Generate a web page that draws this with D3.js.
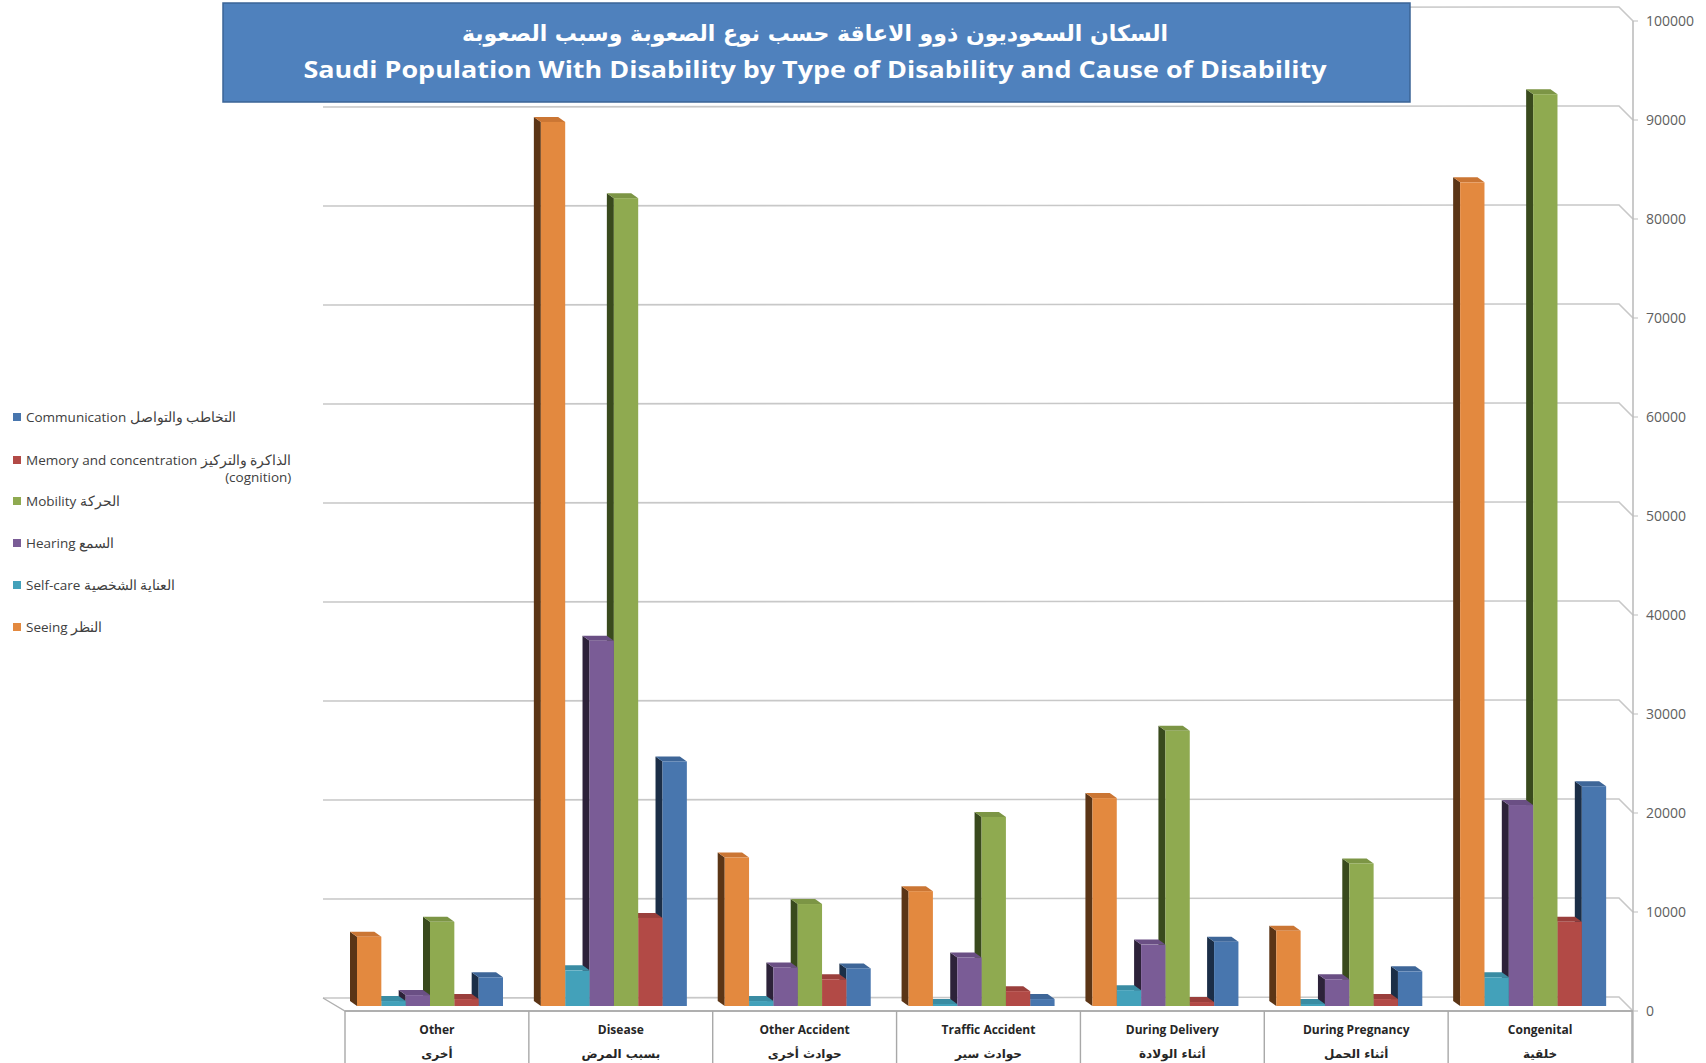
<!DOCTYPE html>
<html>
<head>
<meta charset="utf-8">
<script src="https://cdn.jsdelivr.net/npm/d3@7"></script>
<style>
  body { margin: 0; background: #fff; }
  text { font-family: 'Open Sans', sans-serif; }
  .ar { font-family: 'DejaVu Sans', sans-serif; }
</style>
</head>
<body>
<div id="chart"></div>
<script>
const categories = ['Other', 'Disease', 'Other Accident', 'Traffic Accident', 'During Delivery', 'During Pregnancy', 'Congenital']
const categoriesAr = ['أخرى', 'بسبب المرض', 'حوادث أخرى', 'حوادث سير', 'أثناء الولادة', 'أثناء الحمل', 'خلقية']

// series in drawing order (left to right inside a group)
const seriesKeys = ['seeing', 'selfCare', 'hearing', 'mobility', 'memory', 'communication']
const seeing = [7000, 89300, 15000, 11600, 21000, 7600, 83200]
const selfCare = [500, 3600, 500, 200, 1600, 200, 2900]
const hearing = [1100, 36900, 3900, 4900, 6200, 2700, 20300]
const mobility = [8500, 81600, 10300, 19100, 27800, 14400, 92100]
const memory = [700, 8900, 2700, 1500, 400, 700, 8500]
const communication = [2900, 24700, 3800, 700, 6500, 3500, 22200]

const yTicks = [0, 10000, 20000, 30000, 40000, 50000, 60000, 70000, 80000, 90000, 100000]

const legendLabels = [
  ['communication', 'Communication التخاطب والتواصل'],
  ['memory', 'Memory and concentration الذاكرة والتركيز'],
  ['mobility', 'Mobility الحركة'],
  ['hearing', 'Hearing السمع'],
  ['selfCare', 'Self-care العناية الشخصية'],
  ['seeing', 'Seeing النظر']
]

const values = { seeing, selfCare, hearing, mobility, memory, communication }

const colors = {
  seeing: { front: '#E3893F', top: '#CB7634', side: '#5B3516' },
  selfCare: { front: '#43A1BA', top: '#3A8CA3', side: '#1B4653' },
  hearing: { front: '#7A5C96', top: '#6A4F84', side: '#2D2239' },
  mobility: { front: '#8FAA50', top: '#7C9545', side: '#394A1D' },
  memory: { front: '#B24A46', top: '#9A3F3C', side: '#5A1E1C' },
  communication: { front: '#4876AE', top: '#3E6698', side: '#1B2E47' }
}

const width = 1706
const height = 1063

const svg = d3
  .select('#chart')
  .append('svg')
  .attr('width', width)
  .attr('height', height)

// front plane of the floor
const x0 = d3.scaleBand().domain(categories).range([345, 1632])
const x1 = d3.scaleBand().domain(seriesKeys).range([12, 158])
const y = d3.scaleLinear().domain([0, 100000]).range([1011, 21])

const gridColor = '#c8c8c8'

// back wall gridlines
const grid = svg.append('g')
yTicks.forEach(t => {
  const yy = y(t)
  grid
    .append('path')
    .attr('d', `M323,${yy - 13} L1619,${yy - 14} L1633,${yy}`)
    .attr('fill', 'none')
    .attr('stroke', gridColor)
    .attr('stroke-width', 1.6)
})

// floor
svg
  .append('path')
  .attr('d', `M323,${y(0) - 13} L345,${y(0)} L1632,${y(0)}`)
  .attr('fill', 'none')
  .attr('stroke', '#b0b0b0')
  .attr('stroke-width', 1.4)

// right value axis
const axis = svg.append('g')
axis
  .append('line')
  .attr('x1', 1633)
  .attr('x2', 1633)
  .attr('y1', y(100000))
  .attr('y2', height)
  .attr('stroke', '#bdbdbd')
  .attr('stroke-width', 1.6)

axis
  .selectAll('.tick')
  .data(yTicks)
  .enter()
  .append('line')
  .attr('x1', 1633)
  .attr('x2', 1638)
  .attr('y1', d => y(d))
  .attr('y2', d => y(d))
  .attr('stroke', '#bdbdbd')

axis
  .selectAll('.label')
  .data(yTicks)
  .enter()
  .append('text')
  .attr('x', 1646)
  .attr('y', d => y(d))
  .attr('dy', '0.35em')
  .attr('font-size', 14)
  .attr('fill', '#606060')
  .text(d => d)

// category boxes
const cat = svg.append('g')
cat
  .append('line')
  .attr('x1', 345)
  .attr('x2', 1633)
  .attr('y1', y(0))
  .attr('y2', y(0))
  .attr('stroke', '#a8a8a8')
  .attr('stroke-width', 1.4)

const bounds = categories.map(c => x0(c)).concat([x0.range()[1]])
cat
  .selectAll('.sep')
  .data(bounds)
  .enter()
  .append('line')
  .attr('x1', d => d)
  .attr('x2', d => d)
  .attr('y1', y(0))
  .attr('y2', height)
  .attr('stroke', '#a8a8a8')
  .attr('stroke-width', 1.4)

cat
  .selectAll('.en')
  .data(categories)
  .enter()
  .append('text')
  .attr('x', d => x0(d) + x0.bandwidth() / 2)
  .attr('y', 1034)
  .attr('text-anchor', 'middle')
  .attr('font-size', 12)
  .attr('font-weight', 'bold')
  .attr('fill', '#262626')
  .text(d => d)

cat
  .selectAll('.ar')
  .data(categoriesAr)
  .enter()
  .append('text')
  .attr('class', 'ar')
  .attr('x', (d, i) => x0(categories[i]) + x0.bandwidth() / 2)
  .attr('y', 1058)
  .attr('text-anchor', 'middle')
  .attr('font-size', 12)
  .attr('font-weight', 'bold')
  .attr('fill', '#262626')
  .text(d => d)

// 3d bars
const dx = 7
const dy = 5
const bw = x1.bandwidth()
const bars = svg.append('g')

categories.forEach((c, i) => {
  // right to left so the front face hides the neighbour's side
  seriesKeys
    .slice()
    .reverse()
    .forEach(k => {
      const v = values[k][i]
      const left = x0(c) + x1(k)
      const top = y(v) - 5
      const base = y(0) - 5
      const col = colors[k]
      bars
        .append('path')
        .attr('d', `M${left},${top} L${left - dx},${top - dy} L${left - dx},${base - dy} L${left},${base} Z`)
        .attr('fill', col.side)
      bars
        .append('path')
        .attr('d', `M${left},${top} L${left - dx},${top - dy} L${left + bw - dx},${top - dy} L${left + bw},${top} Z`)
        .attr('fill', col.top)
      bars
        .append('rect')
        .attr('x', left)
        .attr('y', top)
        .attr('width', bw)
        .attr('height', base - top)
        .attr('fill', col.front)
    })
})

// title box
svg
  .append('rect')
  .attr('x', 223)
  .attr('y', 3)
  .attr('width', 1187)
  .attr('height', 99)
  .attr('fill', '#4F81BD')
  .attr('stroke', '#3B6496')
  .attr('stroke-width', 1.5)

svg
  .append('text')
  .attr('class', 'ar')
  .attr('x', 815)
  .attr('y', 41)
  .attr('text-anchor', 'middle')
  .attr('font-size', 22)
  .attr('font-weight', 'bold')
  .attr('fill', '#fff')
  .text('السكان السعوديون ذوو الاعاقة حسب  نوع الصعوبة وسبب الصعوبة')

svg
  .append('text')
  .attr('x', 815)
  .attr('y', 78)
  .attr('text-anchor', 'middle')
  .attr('font-size', 23)
  .attr('font-weight', 'bold')
  .attr('fill', '#fff')
  .attr('textLength', 1023)
  .attr('lengthAdjust', 'spacingAndGlyphs')
  .text('Saudi Population With Disability by Type of Disability and Cause of Disability')

// legend
const legendY = [417, 460, 501, 543, 585, 627]
const legend = svg.append('g')
legendLabels.forEach((d, i) => {
  legend
    .append('rect')
    .attr('x', 13)
    .attr('y', legendY[i] - 4)
    .attr('width', 8)
    .attr('height', 8)
    .attr('fill', colors[d[0]].front)
  const t = legend
    .append('text')
    .attr('x', 26)
    .attr('y', legendY[i])
    .attr('dy', '0.35em')
    .attr('font-size', 13.5)
    .attr('fill', '#404040')
    .text(d[1])
  if (d[0] === 'memory') {
    const w = t.node().getComputedTextLength()
    legend
      .append('text')
      .attr('x', 26 + w)
      .attr('y', legendY[i] + 17)
      .attr('dy', '0.35em')
      .attr('text-anchor', 'end')
      .attr('font-size', 13.5)
      .attr('fill', '#404040')
      .text('(cognition)')
  }
})
</script>
</body>
</html>
